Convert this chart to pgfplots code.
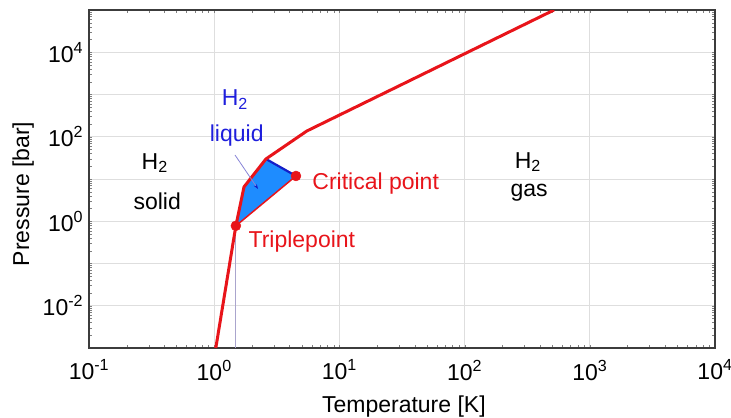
\documentclass[border=0pt]{standalone}
\usepackage{fontspec}
\setmainfont{Liberation Sans}
\usepackage{pgfplots}
\pgfplotsset{compat=1.18}
\usetikzlibrary{arrows.meta}

\definecolor{phred}{RGB}{232,20,26}
\definecolor{liqfill}{RGB}{30,140,255}
\definecolor{liqedge}{RGB}{20,30,200}
\definecolor{liqtext}{RGB}{30,30,220}
\definecolor{gridgray}{RGB}{222,222,222}
\definecolor{axgray}{RGB}{60,60,60}
\definecolor{triline}{RGB}{170,165,205}

\newcommand{\bigf}{\fontsize{23bp}{27bp}\selectfont}

\begin{document}
\bigf
\begin{tikzpicture}
  \begin{axis}[
      xmode=log, ymode=log,
      scale only axis, width=626bp, height=338bp,
      xmin=0.1, xmax=1e4, ymin=1e-3, ymax=1e5,
      xtick={0.1,1,10,100,1000,10000},
      xticklabels={10\textsuperscript{-1},10\textsuperscript{0},10\textsuperscript{1},10\textsuperscript{2},10\textsuperscript{3},10\textsuperscript{4}},
      ytick={1e-3,1e-2,0.1,1,10,100,1000,1e4,1e5},
      yticklabels={,10\textsuperscript{-2},,10\textsuperscript{0},,10\textsuperscript{2},,10\textsuperscript{4},},
      minor xtick={}, minor ytick={},
      major tick length=0pt,
      grid=major, grid style={color=gridgray, line width=0.9bp},
      axis line style={color=axgray, line width=1.5bp},
      tick label style={font=\bigf},
      xticklabel style={yshift=-4bp},
      yticklabel style={xshift=2bp},
      label style={font=\bigf},
      xlabel={Temperature [K]}, ylabel={Pressure [bar]},
      xlabel style={at={(axis description cs:0.503,-0.172)}, anchor=center},
      ylabel style={at={(axis description cs:-0.105,0.456)}, anchor=center, rotate=0},
    ]
    % liquid region
    \addplot[fill=liqfill, draw=none] coordinates {(1.49,0.78) (1.73,6.5) (2.59,29.8) (4.5,11.8)} -- cycle;
    \addplot[color=liqedge, line width=2.2bp] coordinates {(2.59,29.8) (4.5,11.8)};
    % triple point drop line
    \addplot[color=triline, line width=1bp] coordinates {(1.49,1e-3) (1.49,0.78)};
    % vaporisation curve (triple -> critical)
    \addplot[color=phred, line width=1.5bp] coordinates {(1.49,0.78) (4.5,11.8)};
    % melting + sublimation curve
    \addplot[color=phred, line width=3bp] coordinates {(1.03,1e-3) (1.49,0.78) (1.73,6.5) (2.59,29.8) (5.5,137) (518,1e5)};
    % triple and critical points
    \addplot[only marks, mark=*, mark size=5bp, color=phred] coordinates {(1.49,0.78) (4.5,11.8)};

    \draw[color=triline!80!blue, line width=0.8bp, -{Stealth[length=5bp, width=3.5bp, color=liqedge]}]
      (axis cs:1.466,37) -- (axis cs:2.24,5.8);

    \node[color=liqtext] at (rel axis cs:0.233,0.734) {H\textsubscript{2}};
    \node[color=liqtext] at (rel axis cs:0.236,0.630) {liquid};
    \node at (rel axis cs:0.105,0.547) {H\textsubscript{2}};
    \node at (rel axis cs:0.109,0.435) {solid};
    \node at (rel axis cs:0.701,0.550) {H\textsubscript{2}};
    \node at (rel axis cs:0.703,0.459) {gas};
    \node[color=phred] at (rel axis cs:0.458,0.488) {Critical point};
    \node[color=phred] at (rel axis cs:0.340,0.314) {Triplepoint};

    \coordinate (bl) at (rel axis cs:0,0);
    \coordinate (tr) at (rel axis cs:1,1);
  \end{axis}
  \pgfresetboundingbox
  \path[use as bounding box] ([shift={(-89bp,-70bp)}]bl) rectangle ([shift={(16bp,10bp)}]tr);
\end{tikzpicture}
\end{document}
